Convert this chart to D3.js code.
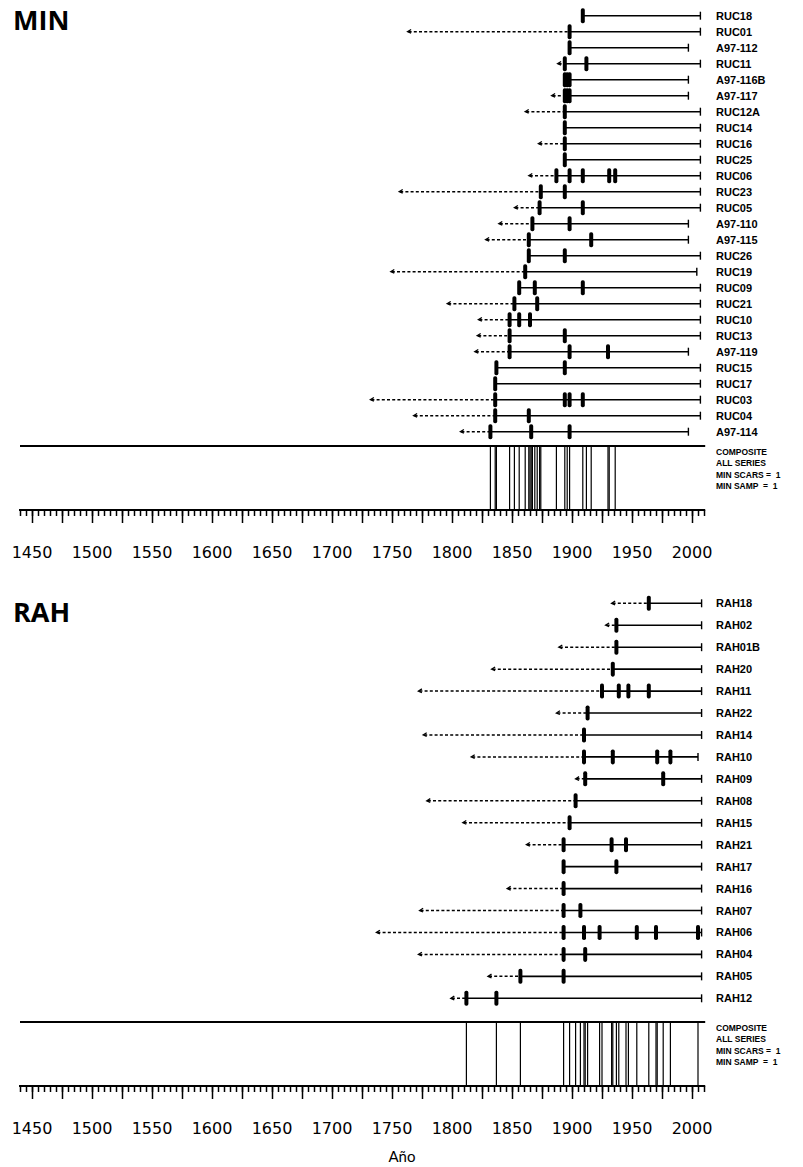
<!DOCTYPE html>
<html>
<head>
<meta charset="utf-8">
<script src="https://cdn.jsdelivr.net/npm/d3@7"></script>
<style>
body { margin: 0; background: #fff; }
svg { display: block; }
.lbl { font-family: "Liberation Sans", Arial, sans-serif; font-weight: bold; font-size: 11px; }
.comp { font-family: "Liberation Sans", Arial, sans-serif; font-weight: bold; font-size: 8.5px; white-space: pre; }
.yr { font-family: "DejaVu Sans", sans-serif; font-size: 16px; }
.title { font-family: "Open Sans", sans-serif; font-weight: bold; font-size: 27px; }
</style>
</head>
<body>
<svg id="paper" width="803" height="1167"></svg>
<script>
// MIN site
var minNames = ["RUC18", "RUC01", "A97-112", "RUC11", "A97-116B", "A97-117", "RUC12A", "RUC14", "RUC16",
    "RUC25", "RUC06", "RUC23", "RUC05", "A97-110", "A97-115", "RUC26", "RUC19", "RUC09", "RUC21",
    "RUC10", "RUC13", "A97-119", "RUC15", "RUC17", "RUC03", "RUC04", "A97-114"];
var minInner = [null, 1763, null, 1888, null, 1883, 1861, null, 1872,
    null, 1864, 1756, 1852, 1839, 1828, null, 1749, null, 1796,
    1822, 1821, 1819, null, null, 1732, 1768, 1807];
var minEnd = [2007, 2007, 1997, 2007, 1997, 1997, 2007, 2007, 2007,
    2007, 2007, 2007, 2007, 1997, 1997, 2007, 2004, 2007, 2007,
    2007, 2007, 1997, 2007, 2007, 2007, 2007, 1997];
var minScars = [[1909], [1898], [1898], [1894, 1912], [1894, 1896, 1898], [1894, 1896, 1898], [1894], [1894], [1894],
    [1894], [1887, 1898, 1909, 1931, 1936], [1874, 1894], [1873, 1909], [1867, 1898], [1864, 1916], [1864, 1894], [1861], [1856, 1869, 1909], [1852, 1871],
    [1848, 1856, 1865], [1848, 1894], [1848, 1898, 1930], [1837, 1894], [1836], [1836, 1894, 1898, 1909], [1836, 1864], [1832, 1866, 1898]];

// RAH site
var rahNames = ["RAH18", "RAH02", "RAH01B", "RAH20", "RAH11", "RAH22", "RAH14", "RAH10", "RAH09", "RAH08",
    "RAH15", "RAH21", "RAH17", "RAH16", "RAH07", "RAH06", "RAH04", "RAH05", "RAH12"];
var rahInner = [1933, 1928, 1889, 1833, 1772, 1887, 1776, 1816, 1903, 1779,
    1809, 1862, null, 1846, 1773, 1737, 1772, 1830, 1799];
var rahEnd = [2008, 2008, 2008, 2008, 2008, 2008, 2008, 2005, 2008, 2008,
    2008, 2008, 2008, 2008, 2008, 2008, 2008, 2008, 2008];
var rahScars = [[1964], [1937], [1937], [1934], [1925, 1939, 1947, 1964], [1913], [1910], [1910, 1934, 1971, 1982], [1911, 1976], [1903],
    [1898], [1893, 1933, 1945], [1893, 1937], [1893], [1893, 1907], [1893, 1910, 1923, 1954, 1970, 2005], [1893, 1911], [1857, 1893], [1812, 1837]];

var axisLabels = [1450, 1500, 1550, 1600, 1650, 1700, 1750, 1800, 1850, 1900, 1950, 2000];
var compositeText = ["COMPOSITE", "ALL SERIES", "MIN SCARS =  1", "MIN SAMP  =  1"];

var svg = d3.select("#paper");
var x = d3.scaleLinear().domain([1450, 2000]).range([32, 692]);

function drawPanel(p) {
    var g = svg.append("g");
    var y = d3.scalePoint().domain(p.names).range([p.rowTop, p.rowBottom]);

    g.append("text").attr("class", "title").attr("x", 13).attr("y", p.titleY).text(p.title);

    p.names.forEach(function (name, i) {
        var yy = y(name);
        var scars = p.scars[i];
        var first = scars[0];
        var end = p.end[i];
        var inner = p.inner[i];

        if (inner != null) {
            g.append("line")
                .attr("x1", x(inner) + 1).attr("x2", x(first))
                .attr("y1", yy).attr("y2", yy)
                .attr("stroke", "#000").attr("stroke-width", 1.5)
                .attr("stroke-dasharray", "3,2.2");
            g.append("path")
                .attr("d", "M" + (x(inner) + 3.5) + "," + (yy - 2.2) + "L" + x(inner) + "," + yy + "L" + (x(inner) + 3.5) + "," + (yy + 1.5))
                .attr("fill", "none").attr("stroke", "#000").attr("stroke-width", 1.3);
        }
        // recording period
        g.append("line")
            .attr("x1", x(first)).attr("x2", x(end))
            .attr("y1", yy).attr("y2", yy)
            .attr("stroke", "#000").attr("stroke-width", 1.6);
        g.append("line")
            .attr("x1", x(end)).attr("x2", x(end))
            .attr("y1", yy - 4).attr("y2", yy + 4)
            .attr("stroke", "#000").attr("stroke-width", 1.4);

        g.selectAll(null).data(scars).enter().append("rect")
            .attr("x", function (d) { return x(d) - 2; })
            .attr("y", yy - 7.5)
            .attr("width", 4).attr("height", 15)
            .attr("rx", 1.8)
            .attr("fill", "#000");

        g.append("text").attr("class", "lbl")
            .attr("x", 716).attr("y", yy + 4)
            .text(name);
    });

    // composite
    var allYears = [];
    p.scars.forEach(function (s) { s.forEach(function (v) { if (allYears.indexOf(v) < 0) allYears.push(v); }); });

    g.append("line")
        .attr("x1", x(1440)).attr("x2", x(2011))
        .attr("y1", p.compTop).attr("y2", p.compTop)
        .attr("stroke", "#000").attr("stroke-width", 2);
    g.selectAll(null).data(allYears).enter().append("line")
        .attr("x1", function (d) { return x(d); })
        .attr("x2", function (d) { return x(d); })
        .attr("y1", p.compTop).attr("y2", p.axisY)
        .attr("stroke", "#000").attr("stroke-width", 1.2);

    compositeText.forEach(function (t, i) {
        g.append("text").attr("class", "comp")
            .attr("x", 716).attr("y", p.compTop + 9 + i * 11.3)
            .text(t);
    });

    // ruler
    var minor = d3.axisBottom(x).tickValues(d3.range(1440, 2011, 5)).tickSize(6).tickFormat("");
    var major = d3.axisBottom(x).tickValues(d3.range(1450, 2001, 25)).tickSize(13).tickFormat("");
    var ga = g.append("g").attr("transform", "translate(0," + p.axisY + ")").call(minor);
    var gb = g.append("g").attr("transform", "translate(0," + p.axisY + ")").call(major);
    [ga, gb].forEach(function (a) {
        a.select(".domain").remove();
        a.selectAll(".tick line").attr("stroke-width", 1.5);
    });
    g.append("line")
        .attr("x1", x(1440) - 1).attr("x2", x(2011))
        .attr("y1", p.axisY).attr("y2", p.axisY)
        .attr("stroke", "#000").attr("stroke-width", 2.2);

    g.selectAll(null).data(axisLabels).enter().append("text")
        .attr("class", "yr")
        .attr("x", function (d) { return x(d); })
        .attr("y", p.axisY + 48)
        .attr("text-anchor", "middle")
        .text(function (d) { return d; });
}

drawPanel({
    title: "MIN", titleY: 30,
    names: minNames, inner: minInner, end: minEnd, scars: minScars,
    rowTop: 15.7, rowBottom: 431.7, compTop: 446, axisY: 510
});

drawPanel({
    title: "RAH", titleY: 622,
    names: rahNames, inner: rahInner, end: rahEnd, scars: rahScars,
    rowTop: 603.3, rowBottom: 998.3, compTop: 1022, axisY: 1086
});

svg.append("text")
    .attr("x", 402).attr("y", 1162)
    .attr("text-anchor", "middle")
    .style("font-family", "Lato, 'Open Sans', sans-serif")
    .style("font-size", "15px")
    .text("Año");
</script>
</body>
</html>
